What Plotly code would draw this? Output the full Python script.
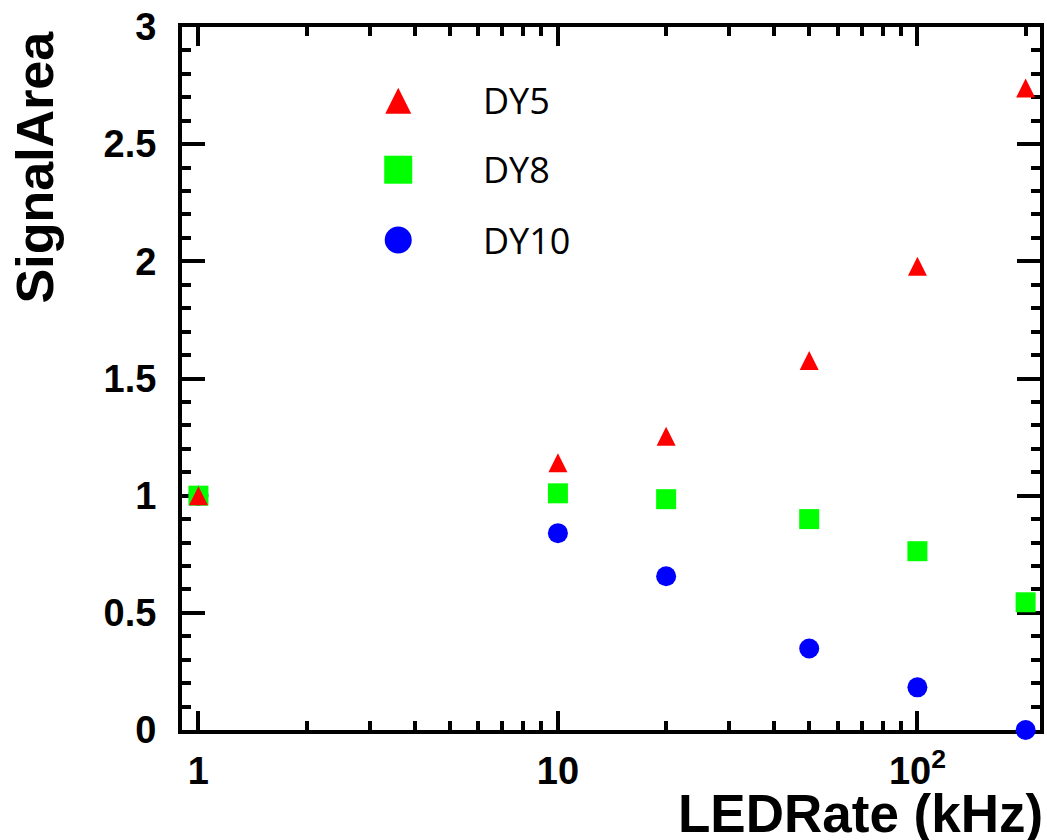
import plotly.graph_objects as go

# ---- data ----
led_rate_khz = [1, 10, 20, 50, 100, 200]
dy5 = [1.0, 1.14, 1.254, 1.577, 1.979, 2.74]
dy8 = [1.0, 1.01, 0.985, 0.90, 0.763, 0.545]
dy10 = [1.0, 0.84, 0.656, 0.348, 0.182, 0.0]

series_names = ["DY5", "DY8", "DY10"]
x_tick_vals = [1, 10, 100]
x_tick_text = ["1", "10", "10<sup>2</sup>"]
y_tick_vals = [0, 0.5, 1, 1.5, 2, 2.5, 3]
y_tick_text = ["0", "0.5", "1", "1.5", "2", "2.5", "3"]

RED = "#ff0000"
GREEN = "#00ff00"
BLUE = "#0000ff"
FONT = "Liberation Sans, Arial, Helvetica, sans-serif"

fig = go.Figure()

# draw order: circles, squares, triangles on top
fig.add_trace(go.Scatter(x=led_rate_khz, y=dy10, mode="markers", name="DY10",
                         marker=dict(symbol="circle", size=20, color=BLUE, line=dict(width=0)),
                         cliponaxis=False, showlegend=False))
fig.add_trace(go.Scatter(x=led_rate_khz, y=dy8, mode="markers", name="DY8",
                         marker=dict(symbol="square", size=20, color=GREEN, line=dict(width=0)),
                         cliponaxis=False, showlegend=False))
fig.add_trace(go.Scatter(x=led_rate_khz, y=dy5, mode="markers", name="DY5",
                         marker=dict(symbol="arrow-down", angle=180, size=19, standoff=9.5,
                                     color=RED, line=dict(width=0)),
                         cliponaxis=False, showlegend=False))

# ---- custom legend on an overlay axis (fractions of plot area) ----
leg_x = [0.252, 0.252, 0.252]
leg_y = [0.895, 0.797, 0.697]
leg_sym = ["arrow-down", "square", "circle"]
leg_angle = [180, 0, 0]
leg_col = [RED, GREEN, BLUE]
leg_size = [26, 28, 27]
leg_standoff = [13, 0, 0]
for i in range(3):
    fig.add_trace(go.Scatter(x=[leg_x[i]], y=[leg_y[i]], xaxis="x2", yaxis="y2", mode="markers",
                             marker=dict(symbol=leg_sym[i], angle=leg_angle[i], size=leg_size[i],
                                         color=leg_col[i], standoff=leg_standoff[i], line=dict(width=0)),
                             showlegend=False, hoverinfo="skip", cliponaxis=False))
    fig.add_annotation(x=0.348, y=leg_y[i], xref="paper", yref="paper", xanchor="left", yanchor="middle",
                       text=series_names[i], showarrow=False,
                       font=dict(family="Open Sans, Noto Sans, sans-serif", size=36, color="black"))

axis_common = dict(showline=True, linecolor="black", linewidth=4, mirror="allticks",
                   ticks="inside", tickcolor="black", tickwidth=3.5, showgrid=False,
                   zeroline=False, layer="below traces",
                   tickfont=dict(family=FONT, size=38, color="black", weight="bold"))

fig.update_layout(
    width=1047, height=840,
    margin=dict(l=182, r=3, t=27, b=110, pad=0),
    paper_bgcolor="white", plot_bgcolor="white",
    showlegend=False,
    xaxis=dict(type="log", range=[-0.0457, 2.341], tickvals=x_tick_vals, ticktext=x_tick_text,
               ticklen=19, ticklabelstandoff=4,
               minor=dict(tickvals=[m * d for d in (1, 10, 100) for m in range(2, 10) if m * d < 221],
                          ticks="inside", ticklen=9, tickwidth=3.5, tickcolor="black", showgrid=False),
               **axis_common),
    yaxis=dict(range=[0, 3], tickvals=y_tick_vals, ticktext=y_tick_text, ticklen=23,
               ticklabelstandoff=14,
               minor=dict(dtick=0.1, tick0=0, ticks="inside", ticklen=9, tickwidth=3.5,
                          tickcolor="black", showgrid=False),
               **axis_common),
    xaxis2=dict(overlaying="x", range=[0, 1], visible=False, anchor="y2"),
    yaxis2=dict(overlaying="y", range=[0, 1], visible=False, anchor="x2"),
)

# axis titles (ROOT-style, right/top aligned)
fig.add_annotation(x=1.006, y=-0.074, xref="paper", yref="paper", xanchor="right", yanchor="top",
                   text="<b>LEDRate (kHz)</b>", showarrow=False,
                   font=dict(family=FONT, size=53, color="black"))
fig.add_annotation(x=-0.208, y=0.998, xref="paper", yref="paper", xanchor="left", yanchor="top",
                   text="<b>SignalArea</b>", showarrow=False, textangle=-90,
                   font=dict(family=FONT, size=52, color="black"))

fig.write_html("out.html")
